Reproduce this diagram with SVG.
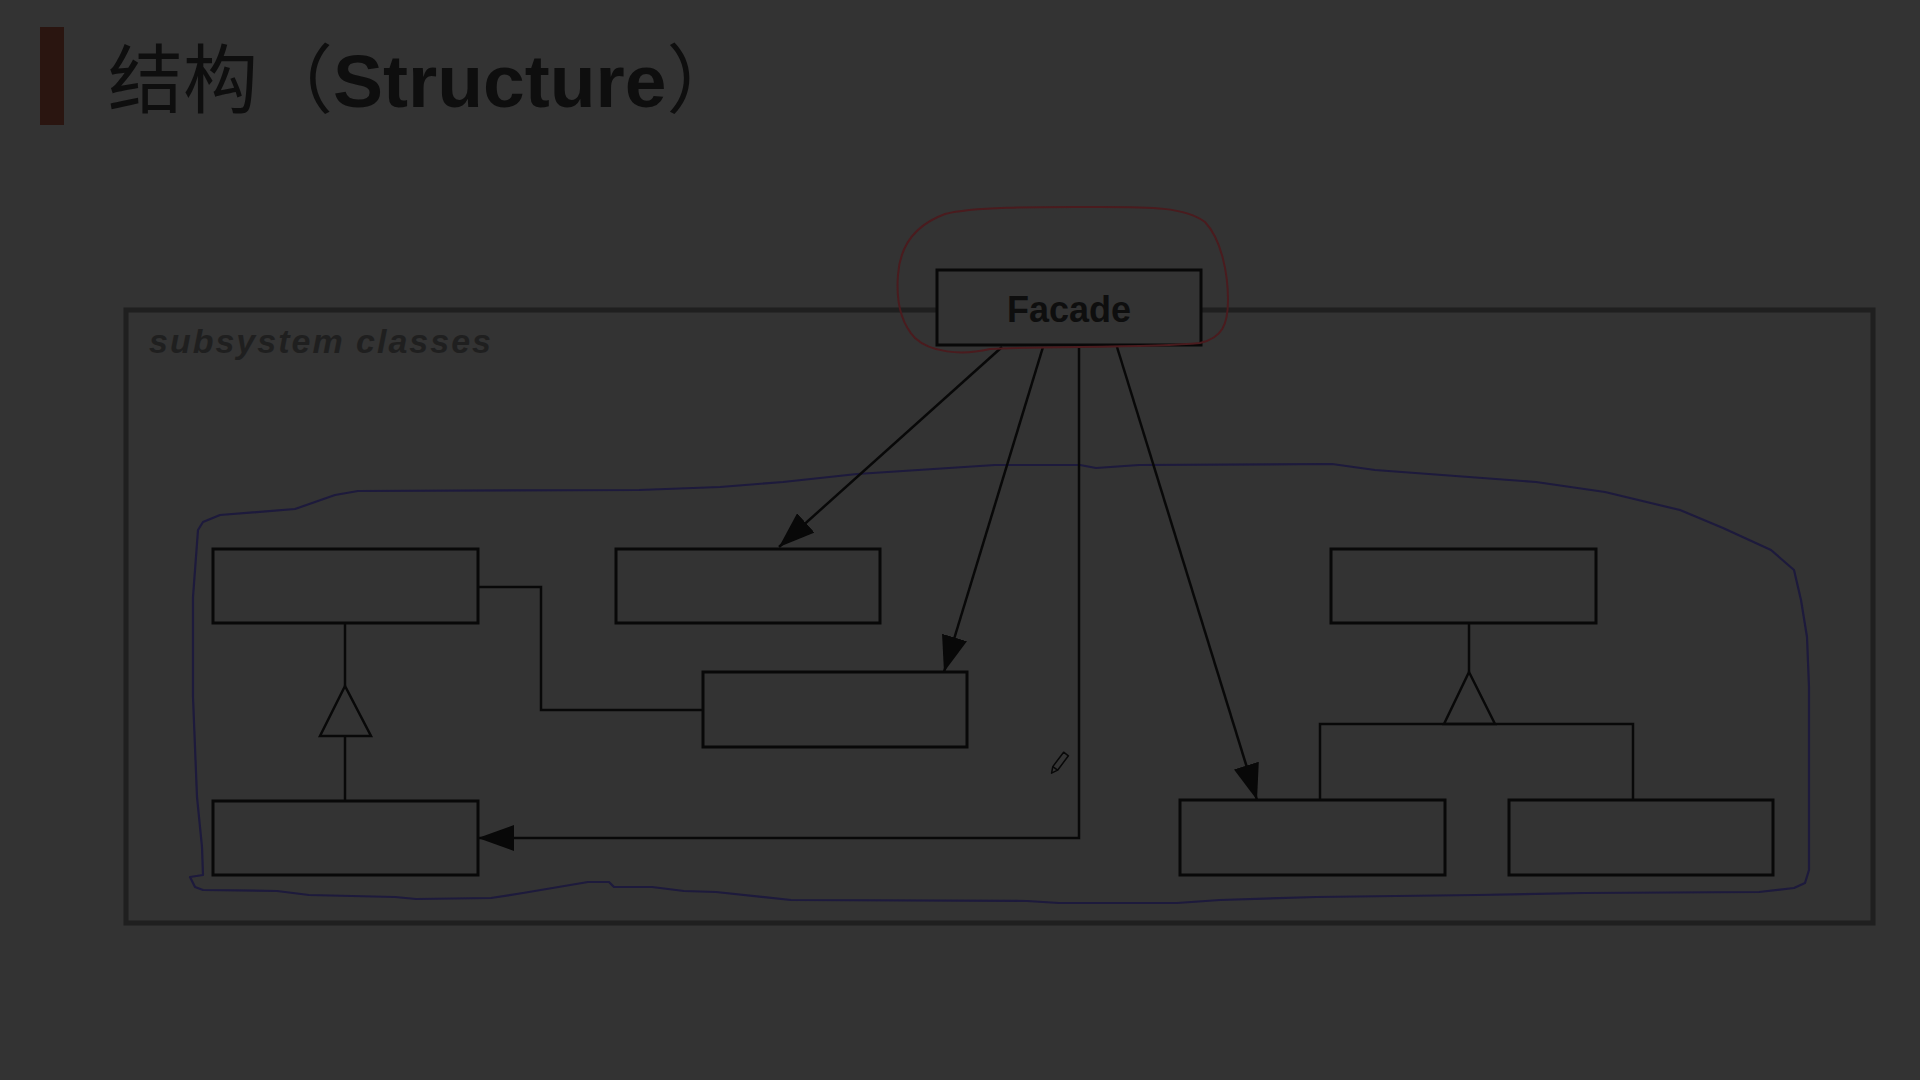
<svg xmlns="http://www.w3.org/2000/svg" width="1920" height="1080" viewBox="0 0 1920 1080">
<style>
.box{fill:#333333;stroke:#080808;stroke-width:3}
.ln{fill:none;stroke:#080808;stroke-width:2.5}
.tri{fill:#333333;stroke:#080808;stroke-width:2.5}
.title{font-family:"Liberation Sans","Noto Sans CJK SC",sans-serif;font-size:75px;fill:#0e0e0e}
</style>
<defs>
<marker id="ah" viewBox="0 0 36 26" refX="36" refY="13" markerWidth="36" markerHeight="26" markerUnits="userSpaceOnUse" orient="auto">
<path d="M0,0 L36,13 L0,26 z" fill="#080808"/>
</marker>
</defs>
<rect width="1920" height="1080" fill="#333333"/>
<g id="title">
<rect x="40" y="27" width="24" height="98" fill="#2a1510"/>
<text class="title" x="108" y="107"><tspan font-family="'Noto Sans CJK SC',sans-serif">结构（</tspan><tspan font-weight="bold">Structure</tspan><tspan font-family="'Noto Sans CJK SC',sans-serif">）</tspan></text>
</g>
<g id="subsystem-frame">
<rect x="126" y="310" width="1747" height="613" fill="none" stroke="#1f1f1f" stroke-width="5"/>
<text x="149" y="353" font-family="'Liberation Sans',sans-serif" font-size="34" font-weight="bold" font-style="italic" fill="#1f1f1f" textLength="342" lengthAdjust="spacing">subsystem classes</text>
</g>
<g id="annotations" fill="none" stroke-linejoin="round" stroke-linecap="round">
<path d="M203,522 L198,530 L193,597 L193,697 L197,797 L202,847 L203,875 L190,877 L195,887 L203,890 L277,891 L309,895 L395,897 L416,899 L491,898 L523,893 L588,882 L609,882 L614,887 L652,887 L684,891 L716,892 L791,900 L1027,901 L1059,903 L1177,903 L1220,900 L1316,897 L1477,895 L1584,893 L1759,892 L1794,888 L1805,883 L1809,870 L1809,687 L1807,637 L1801,600 L1794,570 L1771,550 L1723,528 L1680,510 L1605,492 L1536,482 L1375,470 L1332,464 L1139,465 L1096,468 L1080,465 L995,465 L857,474 L783,482 L720,487 L639,490 L358,491 L335,495 L295,509 L220,515 Z" stroke="#1d1a3c" stroke-width="2.2"/>
</g>
<g id="connectors">
<line class="ln" x1="1002" y1="347" x2="779" y2="547" marker-end="url(#ah)"/>
<line class="ln" x1="1043" y1="347" x2="944" y2="672" marker-end="url(#ah)"/>
<line class="ln" x1="1117" y1="347" x2="1257" y2="800" marker-end="url(#ah)"/>
<polyline class="ln" points="1079,345 1079,838 478,838" marker-end="url(#ah)"/>
<polyline class="ln" points="478,587 541,587 541,710 703,710"/>
<line class="ln" x1="345" y1="623" x2="345" y2="686"/>
<line class="ln" x1="345" y1="736" x2="345" y2="801"/>
<polygon class="tri" points="345,686 320,736 371,736"/>
<line class="ln" x1="1469" y1="623" x2="1469" y2="672"/>
<polygon class="tri" points="1469,672 1444,724 1495,724"/>
<polyline class="ln" points="1320,800 1320,724 1633,724 1633,800"/>
</g>
<g id="facade">
<rect class="box" x="937" y="270" width="264" height="75"/>
<text x="1069" y="322" text-anchor="middle" font-family="'Liberation Sans',sans-serif" font-size="36" font-weight="bold" fill="#0e0e0e">Facade</text>
</g>
<g id="facade-highlight">
<path d="M990,349 C960,356 930,352 915,338 C900,322 896,300 898,275 C900,245 915,225 945,214 C975,206 1050,207 1100,207 C1150,207 1185,207 1205,222 C1222,240 1228,275 1228,300 C1228,325 1222,338 1200,343 C1150,348 1050,346 990,349" fill="none" stroke="#4a1b1e" stroke-width="2" stroke-linejoin="round" stroke-linecap="round"/>
</g>
<g id="class-a"><rect class="box" x="213" y="549" width="265" height="74"/></g>
<g id="class-b"><rect class="box" x="616" y="549" width="264" height="74"/></g>
<g id="class-c"><rect class="box" x="703" y="672" width="264" height="75"/></g>
<g id="class-d"><rect class="box" x="213" y="801" width="265" height="74"/></g>
<g id="class-e"><rect class="box" x="1331" y="549" width="265" height="74"/></g>
<g id="class-f"><rect class="box" x="1180" y="800" width="265" height="75"/></g>
<g id="class-g"><rect class="box" x="1509" y="800" width="264" height="75"/></g>
<g id="cursor" transform="translate(1060,762) rotate(-53)">
<path d="M-8,-3 L10,-3 L10,3 L-8,3 Z M-8,-3 L-14,0 L-8,3" fill="#333333" stroke="#080808" stroke-width="1.5" stroke-linejoin="round"/>
</g>
</svg>
